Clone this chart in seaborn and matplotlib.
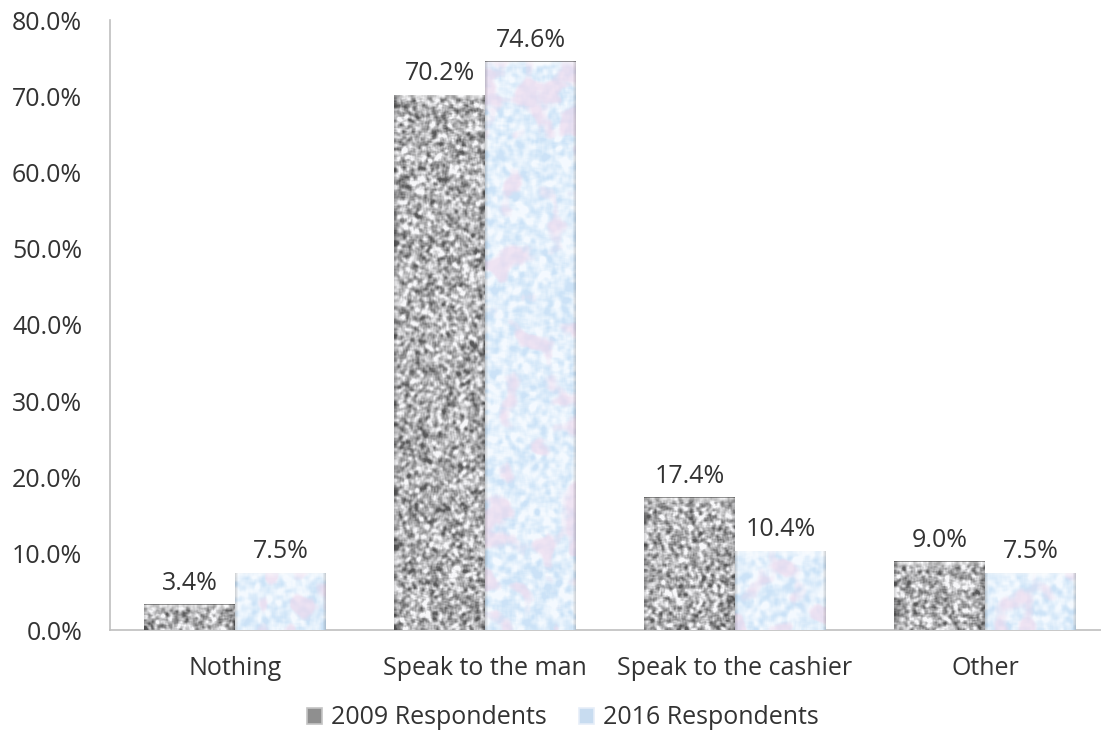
import numpy as np
import pandas as pd
import matplotlib
matplotlib.use("Agg")
import matplotlib.pyplot as plt
import seaborn as sns
from matplotlib.patches import Patch

# ---- data ----
categories = ["Nothing", "Speak to the man", "Speak to the cashier", "Other"]
series = ["2009 Respondents", "2016 Respondents"]
values_2009 = [3.4, 70.2, 17.4, 9.0]
values_2016 = [7.5, 74.6, 10.4, 7.5]
y_ticks = [0, 10, 20, 30, 40, 50, 60, 70, 80]

df = pd.DataFrame({
    "category": categories * 2,
    "series": [series[0]] * len(categories) + [series[1]] * len(categories),
    "value": values_2009 + values_2016,
})

sns.set_theme(style="white")
plt.rcParams["font.family"] = ["Open Sans", "DejaVu Sans"]

TEXT = "#333333"
AXIS = "#bfbfbf"
FS = 18

fig = plt.figure(figsize=(11.01, 7.36), dpi=100)
ax = fig.add_axes([110 / 1101, 106 / 736, 1000 / 1101, 610 / 736])

sns.barplot(data=df, x="category", y="value", hue="series",
            order=categories, hue_order=series,
            palette=["#a6a6a6", "#d6e6f6"], saturation=1,
            width=0.728, legend=False, ax=ax,
            edgecolor="none", linewidth=0)

ax.set_xlim(-0.5, 3.5)
ax.set_ylim(0, 80)
ax.set_yticks(y_ticks)
ax.set_yticklabels([f"{t:.1f}%" for t in y_ticks])
ax.set_xlabel("")
ax.set_ylabel("")
ax.tick_params(axis="both", length=0, labelsize=FS, labelcolor=TEXT)
ax.tick_params(axis="y", pad=20)
ax.tick_params(axis="x", pad=19)
for s in ("top", "right"):
    ax.spines[s].set_visible(False)
for s in ("left", "bottom"):
    ax.spines[s].set_color(AXIS)
    ax.spines[s].set_linewidth(1.2)

rng = np.random.default_rng(12)


def box_blur(a, k):
    if k <= 1:
        return a
    kern = np.ones(k) / k
    p = k
    b = np.pad(a, p, mode="reflect")
    b = np.apply_along_axis(lambda m: np.convolve(m, kern, mode="same"), 0, b)
    b = np.apply_along_axis(lambda m: np.convolve(m, kern, mode="same"), 1, b)
    return b[p:-p, p:-p]


def field(h, w, k):
    n = box_blur(rng.standard_normal((h, w)), k)
    n = box_blur(n, max(k // 2, 1))
    return (n - n.mean()) / (n.std() + 1e-9)


def gray_texture(h, w):
    n = field(h, w, 4)
    v = np.clip(0.70 + 0.15 * n, 0.35, 0.97)
    return np.dstack([v, v, v * 1.01]).clip(0, 1)


def blue_texture(h, w):
    base = np.array([0.80, 0.89, 0.97])
    white = np.array([0.96, 0.98, 1.0])
    pink = np.array([0.93, 0.85, 0.93])
    m = field(h, w, 6)
    big = field(h, w, 18)
    t = np.clip(0.55 + 0.3 * m, 0, 1)[..., None]
    img = base * (1 - t) + white * t
    p = np.clip(0.8 * big - 0.4, 0, 0.65)[..., None]
    return np.clip(img * (1 - p) + pink * p, 0, 1)


def bevel(img):
    h, w, _ = img.shape
    out = img.copy()
    rim = min(6, max(h // 3, 1))
    for r in range(rim):
        a = 0.6 * (1 - r / rim)
        out[r] = out[r] * (1 - a) + a
    side = min(3, w // 4)
    for c in range(side):
        a = 0.15 * (1 - c / side)
        out[:, c] *= (1 - a)
        out[:, -1 - c] *= (1 - a)
    out[0] = out[0] * 0.6
    return np.clip(out, 0, 1)


makers = [gray_texture, blue_texture]
label_sets = [values_2009, values_2016]
for si, cont in enumerate(ax.containers):
    for bar in cont:
        x0, y0 = bar.get_x(), bar.get_y()
        bw, bh = bar.get_width(), bar.get_height()
        (px0, py0), (px1, py1) = ax.transData.transform([(x0, y0), (x0 + bw, y0 + bh)])
        w_px = max(int(round(px1 - px0)), 2)
        h_px = max(int(round(py1 - py0)), 2)
        img = bevel(makers[si](h_px, w_px))
        im = ax.imshow(img, extent=[x0, x0 + bw, y0, y0 + bh], origin="upper",
                       aspect="auto", interpolation="bilinear", zorder=3)
        im.set_clip_path(bar)
    ax.bar_label(cont, labels=[f"{v:.1f}%" for v in label_sets[si]],
                 padding=6, fontsize=FS, color=TEXT, zorder=5)

ax.set_xlim(-0.5, 3.5)
ax.set_ylim(0, 80)

handles = [Patch(facecolor="#8f8f8f", edgecolor="#c4c4c4", linewidth=1.2),
           Patch(facecolor="#c8dcf0", edgecolor="#e6eef8", linewidth=1.2)]
fig.legend(handles, series, loc="center", bbox_to_anchor=(563 / 1101, 1 - 718 / 736),
           ncol=2, frameon=False, fontsize=FS, labelcolor=TEXT,
           handlelength=0.6, handleheight=0.6, handletextpad=0.35,
           columnspacing=1.3)

fig.savefig("out.png", dpi=100)
